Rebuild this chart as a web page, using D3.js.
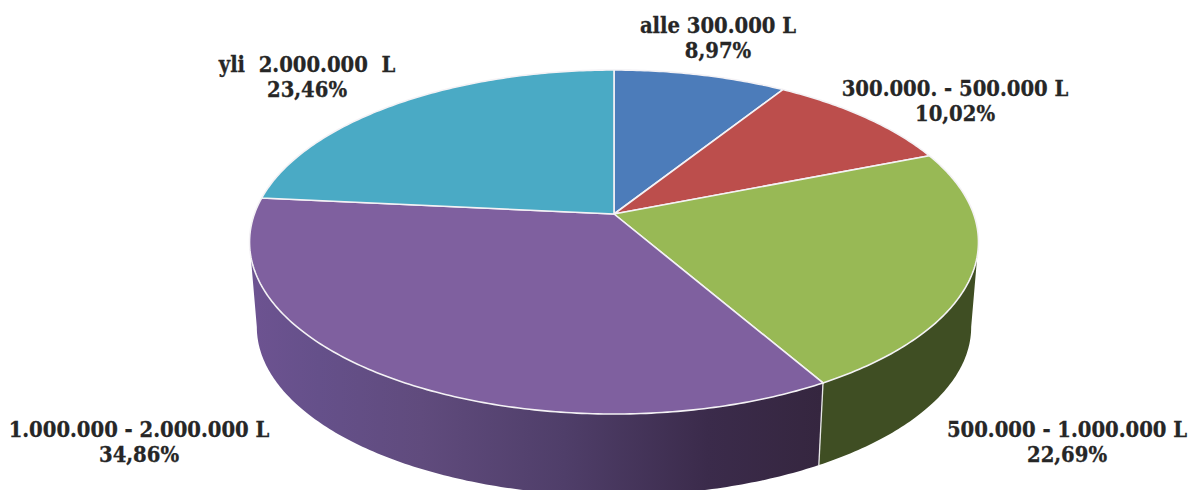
<!DOCTYPE html>
<html>
<head>
<meta charset="utf-8">
<script src="https://d3js.org/d3.v7.min.js"></script>
<style>
html,body{margin:0;padding:0;background:#fff;overflow:hidden;}
text{font-family:"DejaVu Serif Condensed","DejaVu Serif",serif;font-weight:bold;font-stretch:condensed;font-size:21.8px;fill:#262626;stroke:#262626;stroke-width:.3px;text-anchor:middle;white-space:pre;}
</style>
</head>
<body>
<svg id="chart" width="1193" height="490"></svg>
<script>
var categories=['alle 300.000 L','300.000. - 500.000 L','500.000 - 1.000.000 L','1.000.000 - 2.000.000 L','yli  2.000.000  L'];
var values=[8.97,10.02,22.69,34.86,23.46];
var valueLabels=['8,97%','10,02%','22,69%','34,86%','23,46%'];
var colors=['#4c7cba','#bc4e4c','#98b955','#7f609f','#4aaac5'];
var labelX=[718,955,1067,139,307];
var labelY=[33,96,437,437,72];

var cx=614,tilt=-.1628,face={a:132.6,b:214,d:359.6};
var wallDepth=85,wallScale=.98,midY=242;
var svg=d3.select('#chart');

// circle angle -> perspective point on the tilted top face
function project(a){
    var u=Math.sin(a),v=-Math.cos(a),w=1+tilt*v;
    return [cx+face.d*u/w,(face.a*v+face.b)/w];}
// same angle on the lower rim
function lower(a){
    var p=project(a);
    return [cx+(p[0]-cx)*wallScale,midY+wallDepth+(p[1]-midY)*wallScale];}
function sample(a0,a1){
    var n=Math.max(2,Math.ceil(Math.abs(a1-a0)*80));
    return d3.range(n+1).map(function(i){return a0+(a1-a0)*i/n;});}

var line=d3.line();
var arcs=d3.pie().sort(null).value(function(d){return d;})(values);
var edge=Math.acos(tilt);      // silhouette angle on the right, mirrored on the left

var defs=svg.append('defs');
var grad=defs.append('linearGradient').attr('id','purpleWall')
    .attr('gradientUnits','userSpaceOnUse')
    .attr('x1',250).attr('x2',822).attr('y1',0).attr('y2',0);
[[0,'#6d5391'],[.12,'#65508a'],[.3,'#604b7d'],[.55,'#4f3e69'],[.8,'#3b2b4b'],[1,'#35263f']]
    .forEach(function(s){grad.append('stop').attr('offset',s[0]).attr('stop-color',s[1]);});

function wall(a0,a1){
    var pts=sample(a0,a1).map(project).concat(sample(a1,a0).map(lower));
    return line(pts)+'Z';}

svg.append('path').attr('d',wall(edge,arcs[2].endAngle)).attr('fill','#3f4e23');
svg.append('path').attr('d',wall(arcs[3].startAngle,2*Math.PI-edge)).attr('fill','url(#purpleWall)');
// seam between the two walls
svg.append('path').attr('d',line([project(arcs[3].startAngle),lower(arcs[3].startAngle)]))
   .attr('stroke','#e8e8e8').attr('stroke-width',1.3).attr('fill','none');

svg.selectAll('path.slice').data(arcs).enter().append('path')
   .attr('class','slice')
   .attr('d',function(d){
       return line([[cx,face.b]].concat(sample(d.startAngle,d.endAngle).map(project)))+'Z';})
   .attr('fill',function(d,i){return colors[i];})
   .attr('stroke','#f4f2f5').attr('stroke-width',1.6).attr('stroke-linejoin','round');

var labels=svg.selectAll('g.label').data(categories).enter().append('g').attr('class','label')
   .attr('transform',function(d,i){return 'translate('+labelX[i]+','+labelY[i]+')';});
labels.append('text').text(function(d){return d;});
labels.append('text').attr('y',25).text(function(d,i){return valueLabels[i];});
</script>
</body>
</html>
